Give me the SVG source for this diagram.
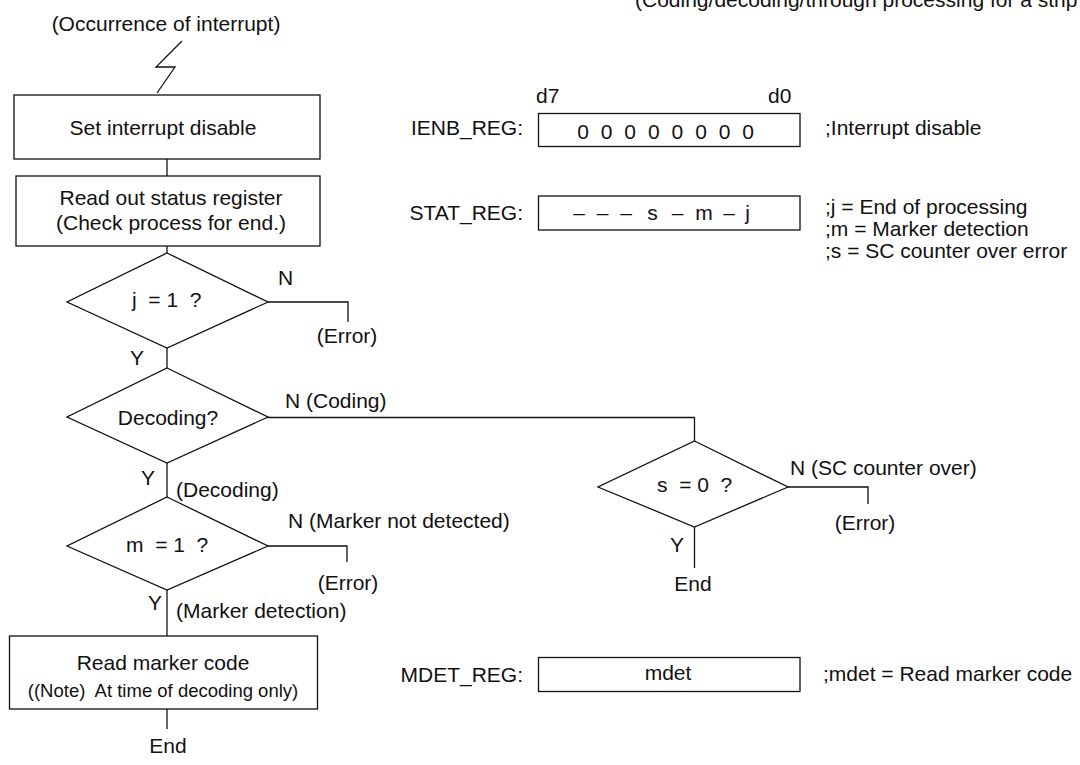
<svg xmlns="http://www.w3.org/2000/svg" width="1080" height="765" viewBox="0 0 1080 765">
<style>
text{font-family:"Liberation Sans",Arial,sans-serif;font-size:21px;fill:#111}
.m{text-anchor:middle}
.e{text-anchor:end}
.s{font-size:18.5px}
.box{fill:#fff;stroke:#111;stroke-width:1.3}
.ln{fill:none;stroke:#111;stroke-width:1.3}
</style>
<rect width="1080" height="765" fill="#fff"/>
<text x="635" y="7">(Coding/decoding/through processing for a strip</text>
<g id="start">
<text class="m" x="166" y="31">(Occurrence of interrupt)</text>
<polyline class="ln" points="182,41 156,67 175,67 157,93"/>
</g>
<g id="connectors">
<line class="ln" x1="167" y1="159" x2="167" y2="176"/>
<line class="ln" x1="167" y1="246" x2="167" y2="253"/>
<polyline class="ln" points="268,302 348,302 348,322"/>
<line class="ln" x1="167" y1="348" x2="167" y2="368"/>
<polyline class="ln" points="268,417.5 694.5,417.5 694.5,441"/>
<line class="ln" x1="167" y1="463" x2="167" y2="497"/>
<polyline class="ln" points="268,546 347,546 347,562"/>
<line class="ln" x1="167" y1="590" x2="167" y2="636"/>
<line class="ln" x1="167" y1="709" x2="167" y2="729"/>
<polyline class="ln" points="788,487 868,487 868,504"/>
<line class="ln" x1="694.5" y1="527" x2="694.5" y2="568"/>
</g>
<g id="n_disable">
<rect class="box" x="14" y="95" width="306" height="64"/>
<text class="m" x="163" y="135">Set interrupt disable</text>
</g>
<g id="n_readstatus">
<rect class="box" x="16" y="176" width="304" height="70"/>
<text class="m" x="171" y="205">Read out status register</text>
<text class="m" x="171" y="230">(Check process for end.)</text>
</g>
<g id="d_j">
<polygon class="box" points="167,253 268,302 167,348 67,302"/>
<text x="132" y="307" xml:space="preserve">j  = 1  ?</text>
<text x="278" y="285">N</text>
<text class="m" x="347" y="343">(Error)</text>
<text class="m" x="137" y="365">Y</text>
</g>
<g id="d_decoding">
<polygon class="box" points="167,368 268,417 167,463 67,417"/>
<text class="m" x="168" y="425">Decoding?</text>
<text x="285" y="408">N (Coding)</text>
<text class="m" x="148" y="485">Y</text>
<text x="176" y="497">(Decoding)</text>
</g>
<g id="d_m">
<polygon class="box" points="167,497 268,546 167,590 67,546"/>
<text x="126" y="552" xml:space="preserve">m  = 1  ?</text>
<text x="288" y="528">N (Marker not detected)</text>
<text class="m" x="348" y="590">(Error)</text>
<text class="m" x="155" y="610">Y</text>
<text x="176" y="618">(Marker detection)</text>
</g>
<g id="n_readmarker">
<rect class="box" x="9.5" y="636" width="308" height="73"/>
<text class="m" x="163" y="670">Read marker code</text>
<text class="m s" x="163" y="697" xml:space="preserve">((Note)  At time of decoding only)</text>
<text class="m" x="168" y="753">End</text>
</g>
<g id="d_s">
<polygon class="box" points="694.5,441 788,487 694.5,527 598,487"/>
<text x="657" y="492" xml:space="preserve">s  = 0  ?</text>
<text x="790" y="475">N (SC counter over)</text>
<text class="m" x="865" y="530">(Error)</text>
<text class="m" x="677" y="552">Y</text>
<text class="m" x="693" y="591">End</text>
</g>
<g id="r_ienb">
<text x="536" y="103">d7</text>
<text x="768" y="103">d0</text>
<text class="e" x="523" y="135">IENB_REG:</text>
<rect class="box" x="538.5" y="113.5" width="261.5" height="33"/>
<text class="m" x="583 606.6 630.2 653.8 677.4 701 724.6 748.2" y="139">00000000</text>
<text x="825" y="135">;Interrupt disable</text>
</g>
<g id="r_stat">
<text class="e" x="523" y="220">STAT_REG:</text>
<rect class="box" x="538.5" y="196" width="261.5" height="34"/>
<text class="m" x="579 602.5 626 652.5 677.5 704 729 747.5" y="220">–––s–m–j</text>
<text x="825" y="214">;j = End of processing</text>
<text x="825" y="236">;m = Marker detection</text>
<text x="825" y="258">;s = SC counter over error</text>
</g>
<g id="r_mdet">
<text class="e" x="523" y="682">MDET_REG:</text>
<rect class="box" x="538.5" y="657.5" width="261.5" height="34"/>
<text class="m" x="668" y="680">mdet</text>
<text x="823" y="681">;mdet = Read marker code</text>
</g>
</svg>
